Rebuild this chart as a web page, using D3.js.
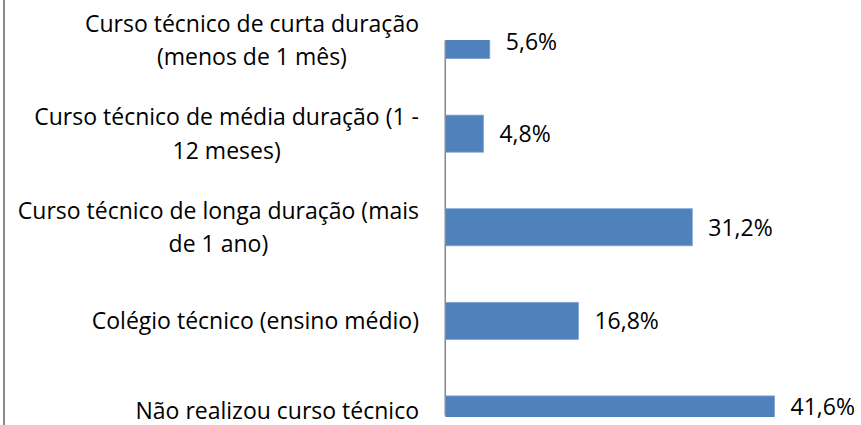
<!DOCTYPE html>
<html>
<head>
<meta charset="utf-8">
<script src="https://cdn.jsdelivr.net/npm/d3@7"></script>
<style>
  html, body { margin: 0; padding: 0; background: #fff; }
  svg { display: block; }
  text { font-family: "Open Sans", Lato, sans-serif; fill: #000; }
</style>
</head>
<body>
<svg id="chart" width="861" height="425"></svg>
<script>
// ---- data ----
const categories = [
  ["Curso técnico de curta duração", "(menos de 1 mês)"],
  ["Curso técnico de média duração (1 -", "12 meses)"],
  ["Curso técnico de longa duração (mais", "de 1 ano)"],
  ["Colégio técnico (ensino médio)"],
  ["Não realizou curso técnico"]
];
const values = [5.6, 4.8, 31.2, 16.8, 41.6];
const valueLabels = ["5,6%", "4,8%", "31,2%", "16,8%", "41,6%"];

// ---- layout ----
const W = 861, H = 425;
const plotTop = 40, plotBottom = 417;
const fontSize = 23;
const lineH = 33.5;
const labelRight = 419;

const svg = d3.select("#chart");

const idx = d3.range(values.length);
const y = d3.scaleBand()
  .domain(idx)
  .range([-6.75, 461.25])
  .paddingInner(0.604)
  .paddingOuter(0.302);

const x = d3.scaleLinear().domain([0, 50]).range([445.5, 841]);

// left frame line
svg.append("line")
  .attr("x1", 4).attr("x2", 4).attr("y1", 0).attr("y2", H)
  .attr("stroke", "#8c8c8c").attr("stroke-width", 2);

// clip for plot area
svg.append("defs").append("clipPath").attr("id", "plotclip")
  .append("rect").attr("x", 0).attr("y", plotTop)
  .attr("width", W).attr("height", plotBottom - plotTop);

const plot = svg.append("g").attr("clip-path", "url(#plotclip)");

plot.selectAll("rect.bar")
  .data(idx)
  .join("rect")
  .attr("class", "bar")
  .attr("x", x(0))
  .attr("y", i => y(i))
  .attr("width", i => x(values[i]) - x(0))
  .attr("height", y.bandwidth())
  .attr("fill", "#4F81BD")
  .attr("stroke", "#7fa3d0")
  .attr("stroke-width", 0.8);

// vertical axis line
const axis = d3.axisLeft(d3.scaleLinear().range([plotTop, plotBottom - 2])).ticks(0).tickSize(0).tickFormat("");
const axG = svg.append("g").attr("transform", `translate(${x(0) - 0.75},0)`).call(axis);
axG.select(".domain").attr("stroke", "#8c8c8c").attr("stroke-width", 1.6);

// category labels (centered lines, block right-aligned)
idx.forEach(i => {
  const lines = categories[i];
  const cy = Math.min(411, y(i) + y.bandwidth() / 2);
  const g = svg.append("g");
  const texts = lines.map((ln, k) =>
    g.append("text")
      .attr("font-size", fontSize)
      .attr("text-anchor", "middle")
      .attr("y", cy + (k - (lines.length - 1) / 2) * lineH)
      .attr("dy", "0.36em")
      .text(ln)
  );
  const maxW = d3.max(texts, t => t.node().getComputedTextLength());
  texts.forEach(t => t.attr("x", labelRight - maxW / 2));
});

// value labels
svg.selectAll("text.val")
  .data(idx)
  .join("text")
  .attr("class", "val")
  .attr("font-size", fontSize)
  .attr("x", i => x(values[i]) + 16)
  .attr("y", i => Math.max(42, Math.min(407, y(i) + y.bandwidth() / 2)))
  .attr("dy", "0.36em")
  .text(i => valueLabels[i]);
</script>
</body>
</html>
